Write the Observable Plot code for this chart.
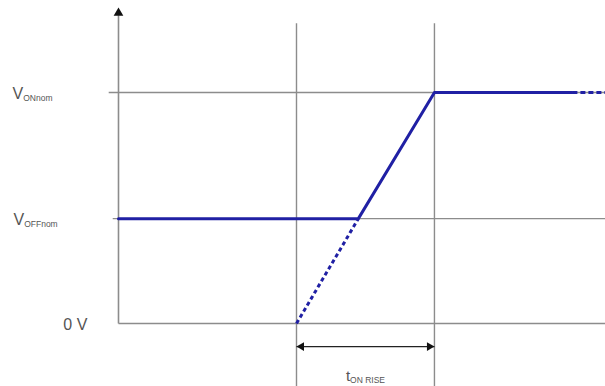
<!DOCTYPE html>
<html><head><meta charset="utf-8">
<script src="https://cdn.jsdelivr.net/npm/d3@7"></script>
<script src="https://cdn.jsdelivr.net/npm/@observablehq/plot@0.6"></script>
<style>body{margin:0;background:#fff}</style>
</head><body><div id="chart"></div>
<script>
// Level names and values (arbitrary voltage units)
const levelNames = ["0 V", "V_OFFnom", "V_ONnom"];
const levelValues = [0, 2.27, 5];
const levelLineStart = [0, -0.13, -0.22];
const labelStart = [-1.24, -2.36, -2.38];
// Time markers (arbitrary time units): ramp start (extrapolated) and ramp end
const timeMarks = [4, 7.1];
const axisTop = 6.72;
const markTop = 6.5;
const bottomEdge = -1.4;
const rightEdge = 11;
// Observed output trace
const traceT = [0, 5.39, 7.1, 10.2];
const traceV = [2.27, 2.27, 5, 5];
// Extrapolated ramp (dashed) and continuation (dotted)
const rampT = [4, 5.39];
const rampV = [0, 2.27];
const contT = [10.2, 11];
const contV = [5, 5];
const spanY = -0.5;
const spanLabel = "t_ON RISE";
const spanLabelY = -1.13;

const grey = "#8c8c8c";
const blue = "#2020a4";
const font = "'Liberation Sans', Arial, sans-serif";

const levels = levelNames.map((n, i) => ({name: n, v: levelValues[i], start: levelLineStart[i], lx: labelStart[i]}));
const trace = traceT.map((t, i) => ({t, v: traceV[i]}));
const ramp = rampT.map((t, i) => ({t, v: rampV[i]}));
const cont = contT.map((t, i) => ({t, v: contV[i]}));
const marks = timeMarks.map(t => ({t}));

const svg = Plot.plot({
  width: 605, height: 386,
  marginTop: 0, marginRight: 0, marginBottom: 0, marginLeft: 0,
  style: {fontFamily: font, background: "#fff"},
  x: {domain: [0, rightEdge], range: [118, 607.5], axis: null},
  y: {domain: [0, 5], range: [323, 92], axis: null},
  marks: [
    // horizontal reference lines
    Plot.link(levels, {x1: "start", x2: () => rightEdge, y1: "v", y2: "v", stroke: grey, strokeWidth: 1.4}),
    // vertical time markers
    Plot.link(marks, {x1: "t", x2: "t", y1: () => markTop, y2: () => bottomEdge, stroke: grey, strokeWidth: 1.4}),
    // y axis
    Plot.link([0], {x1: () => 0, x2: () => 0, y1: () => 0, y2: () => axisTop - 0.05, stroke: grey, strokeWidth: 1.6}),
    Plot.dot([0], {x: () => 0, y: () => axisTop, symbol: "triangle", r: 3.6, fill: "#111", stroke: "none"}),
    // time span arrow
    Plot.link([0], {x1: () => timeMarks[0], x2: () => timeMarks[1], y1: () => spanY, y2: () => spanY, stroke: "#222", strokeWidth: 1.2}),
    Plot.dot([0], {x: () => timeMarks[0], y: () => spanY, dx: 5, symbol: "triangle", rotate: -90, r: 3.2, fill: "#111", stroke: "none"}),
    Plot.dot([0], {x: () => timeMarks[1], y: () => spanY, dx: -5, symbol: "triangle", rotate: 90, r: 3.2, fill: "#111", stroke: "none"}),
    // extrapolated ramp (dashed)
    Plot.line(ramp, {x: "t", y: "v", stroke: blue, strokeWidth: 3, strokeDasharray: "4,3", strokeLinecap: "butt"}),
    // continuation (dotted)
    Plot.line(cont, {x: "t", y: "v", stroke: blue, strokeWidth: 3, strokeDasharray: "5,3", strokeLinecap: "butt"}),
    // observed trace
    Plot.line(trace, {x: "t", y: "v", stroke: blue, strokeWidth: 3}),
    // level labels
    Plot.text(levels, {x: "lx", y: "v", text: "name", textAnchor: "start", dy: 1, fontSize: 16, fill: "#555"}),
    // span label
    Plot.text([spanLabel], {x: () => (timeMarks[0] + timeMarks[1]) / 2, y: () => spanLabelY, text: d => d, textAnchor: "middle", fontSize: 15, fill: "#555"})
  ]
});

d3.select(svg).selectAll("text").each(function () {
  const el = d3.select(this);
  const s = el.text();
  if (s.includes("_")) {
    const [main, sub] = s.split("_");
    el.text(null);
    el.append("tspan").text(main);
    el.append("tspan").attr("font-size", 8.5).attr("dy", "0.3em").text(sub);
  }
});

document.getElementById("chart").appendChild(svg);
</script>
</body></html>
